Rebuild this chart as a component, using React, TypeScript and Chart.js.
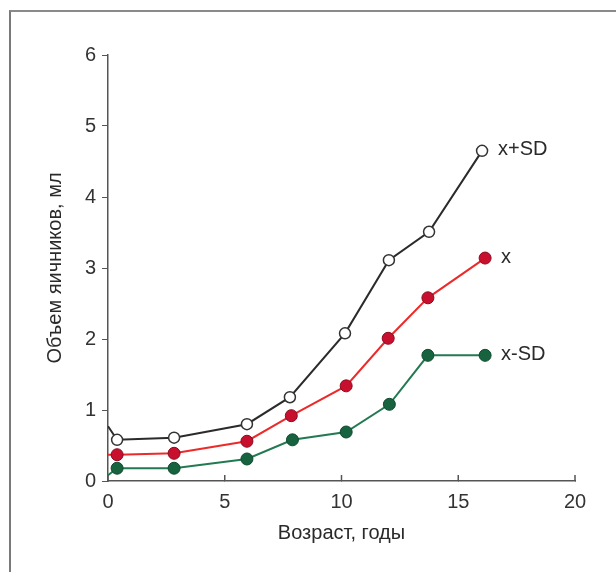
import React, { useEffect, useRef } from "react";
import { Chart, registerables } from "chart.js";

Chart.register(...registerables);

const upperX = [0, 0.39, 2.83, 5.95, 7.79, 10.15, 12.03, 13.75, 16.02];
const upperY = [0.77, 0.58, 0.61, 0.8, 1.18, 2.08, 3.11, 3.51, 4.65];
const meanX = [0, 0.39, 2.83, 5.95, 7.85, 10.2, 12.0, 13.7, 16.15];
const meanY = [0.37, 0.37, 0.39, 0.56, 0.92, 1.34, 2.01, 2.58, 3.14];
const lowerX = [0, 0.39, 2.83, 5.95, 7.9, 10.2, 12.05, 13.7, 16.15];
const lowerY = [0.08, 0.18, 0.18, 0.31, 0.58, 0.69, 1.08, 1.77, 1.77];
const seriesLabels = ["x+SD", "x", "x-SD"];
const xTitle = "Возраст, годы";
const yTitle = "Объем яичников, мл";

const FONT = "'Liberation Sans', Arial, sans-serif";

function pts(xs: number[], ys: number[]) {
  return xs.map((x, i) => ({ x, y: ys[i] }));
}

const endLabels = {
  id: "endLabels",
  afterDatasetsDraw(chart: any) {
    const ctx = chart.ctx;
    ctx.save();
    ctx.font = `20px ${FONT}`;
    ctx.fillStyle = "#2a2a2a";
    ctx.textBaseline = "middle";
    ctx.textAlign = "left";
    chart.data.datasets.forEach((ds: any, i: number) => {
      const meta = chart.getDatasetMeta(i);
      const last = meta.data[meta.data.length - 1];
      ctx.fillText(ds.label, last.x + 16, last.y - 1);
    });
    // inward x ticks
    const xs = chart.scales.x;
    const bottom = chart.chartArea.bottom;
    ctx.strokeStyle = "#555";
    ctx.lineWidth = 1.5;
    xs.ticks.forEach((t: any) => {
      const px = xs.getPixelForValue(t.value);
      ctx.beginPath();
      ctx.moveTo(px, bottom);
      ctx.lineTo(px, bottom - 6);
      ctx.stroke();
    });
    ctx.restore();
  },
};

export default function App() {
  const ref = useRef<HTMLCanvasElement>(null);
  useEffect(() => {
    document.body.style.margin = "0";
    const chart = new Chart(ref.current!, {
      type: "line",
      data: {
        datasets: [
          {
            label: seriesLabels[0],
            data: pts(upperX, upperY),
            borderColor: "#2b2b2b",
            borderWidth: 2,
            pointBackgroundColor: "#ffffff",
            pointBorderColor: "#333333",
            pointBorderWidth: 1.5,
            pointRadius: upperX.map((_, i) => (i === 0 ? 0 : 5.5)),
          },
          {
            label: seriesLabels[1],
            data: pts(meanX, meanY),
            borderColor: "#ec2a2a",
            borderWidth: 2,
            pointBackgroundColor: "#c8102e",
            pointBorderColor: "#8a0a1e",
            pointBorderWidth: 1,
            pointRadius: meanX.map((_, i) => (i === 0 ? 0 : 6)),
          },
          {
            label: seriesLabels[2],
            data: pts(lowerX, lowerY),
            borderColor: "#237a52",
            borderWidth: 2,
            pointBackgroundColor: "#17623f",
            pointBorderColor: "#0f4a2e",
            pointBorderWidth: 1,
            pointRadius: lowerX.map((_, i) => (i === 0 ? 0 : 6)),
          },
        ],
      },
      options: {
        animation: false,
        responsive: false,
        layout: { padding: { left: 0, top: 55, right: 41, bottom: 0 } },
        plugins: { legend: { display: false }, tooltip: { enabled: false } },
        scales: {
          x: {
            type: "linear",
            min: 0,
            max: 20,
            ticks: { stepSize: 5, color: "#333", font: { size: 20, family: FONT }, padding: 9 },
            grid: { display: true, drawOnChartArea: false, drawTicks: true, tickLength: 0, color: "#555" },
            border: { color: "#555", width: 1.5 },
            title: { display: true, text: xTitle, color: "#2a2a2a", font: { size: 20, family: FONT }, padding: { top: 6, bottom: 27 } },
            afterFit: (s: any) => { s.height = 91; },
          },
          y: {
            min: 0,
            max: 6,
            ticks: { stepSize: 1, color: "#333", font: { size: 20, family: FONT }, padding: 6 },
            grid: { display: true, drawOnChartArea: false, drawTicks: true, tickLength: 6, color: "#555" },
            border: { color: "#555", width: 1.5 },
            title: { display: true, text: yTitle, color: "#2a2a2a", font: { size: 20, family: FONT }, padding: { top: 43, bottom: 0 } },
            afterFit: (s: any) => { s.width = 108; },
          },
        },
      },
      plugins: [endLabels],
    } as any);
    return () => chart.destroy();
  }, []);
  return (
    <div style={{ position: "absolute", left: 0, top: 0, width: 616, height: 572, background: "#fff" }}>
      <canvas ref={ref} width={616} height={572} />
      <div
        style={{
          position: "absolute",
          left: 9,
          top: 10,
          width: 607,
          height: 562,
          borderTop: "2px solid #8a8a8a",
          borderLeft: "2px solid #7a7a7a",
          pointerEvents: "none",
        }}
      />
    </div>
  );
}
